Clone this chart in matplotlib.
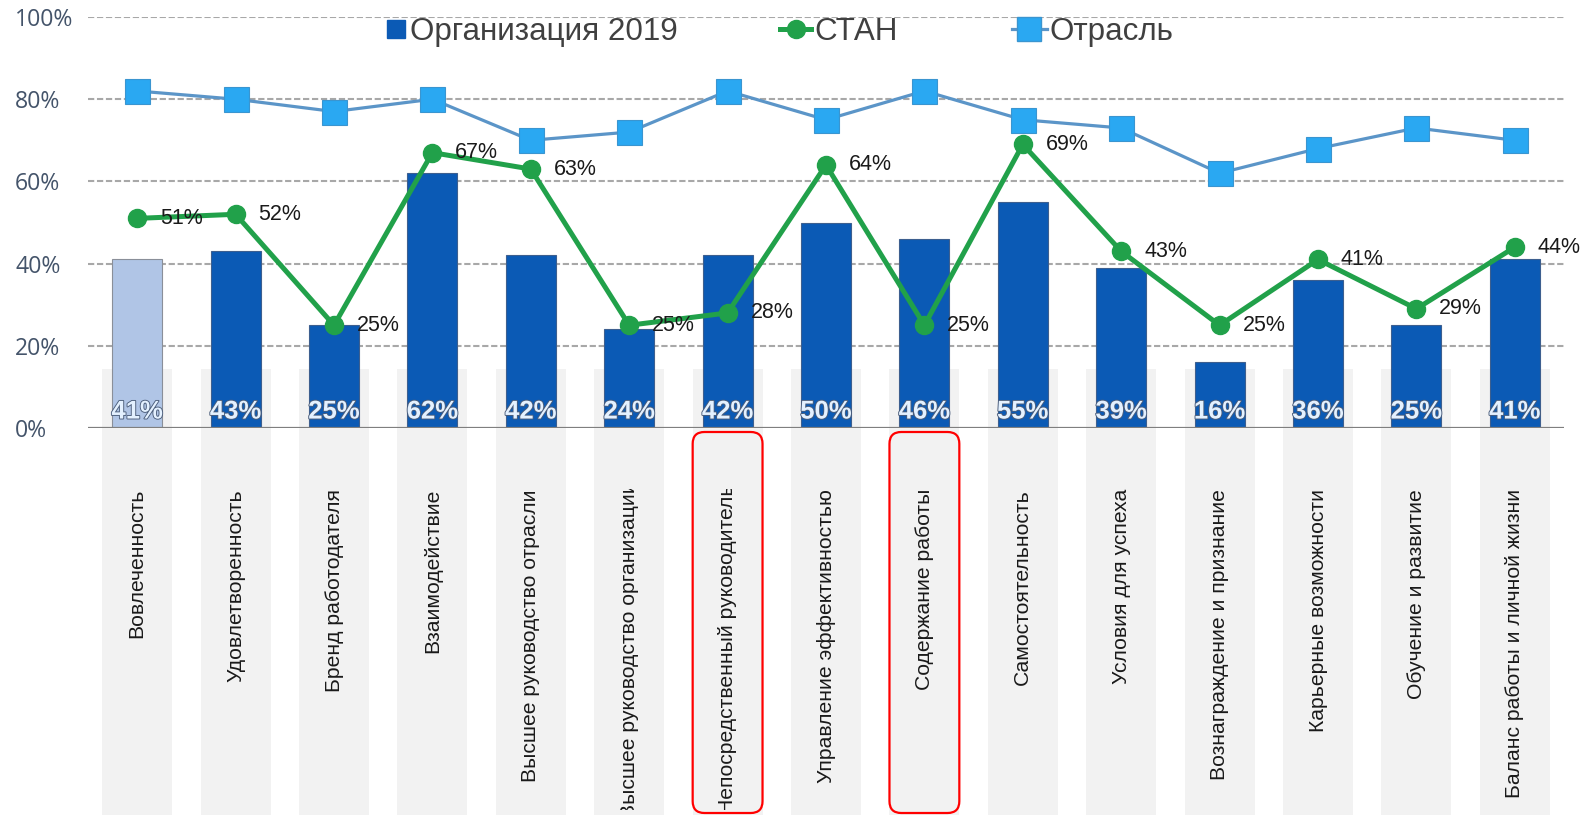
import matplotlib
matplotlib.use('Agg')
import matplotlib.pyplot as plt
from matplotlib.lines import Line2D
from matplotlib.patches import FancyBboxPatch, Rectangle
import matplotlib.patheffects as pe
import numpy as np

categories = ['Вовлеченность', 'Удовлетворенность', 'Бренд работодателя', 'Взаимодействие',
              'Высшее руководство отрасли', 'Высшее руководство организации',
              'Непосредственный руководитель', 'Управление эффективностью', 'Содержание работы',
              'Самостоятельность', 'Условия для успеха', 'Вознаграждение и признание',
              'Карьерные возможности', 'Обучение и развитие', 'Баланс работы и личной жизни']
org_2019 = [41, 43, 25, 62, 42, 24, 42, 50, 46, 55, 39, 16, 36, 25, 41]
stan = [51, 52, 25, 67, 63, 25, 28, 64, 25, 69, 43, 25, 41, 29, 44]
industry = [82, 80, 77, 80, 70, 72, 82, 75, 82, 75, 73, 62, 68, 73, 70]
highlighted = [6, 8]
y_ticks = [0, 20, 40, 60, 80, 100]
series_names = ['Организация 2019', 'СТАН', 'Отрасль']

BAR = '#0b5ab5'
BAR_LIGHT = '#b0c5e6'
GREEN = '#21a14a'
IND_LINE = '#5b95c8'
IND_MARK = '#2aa8f2'

W, H = 1587, 815
fig = plt.figure(figsize=(W / 100, H / 100), dpi=100)
ax_left, ax_right, ax_top, ax_bot = 88, 1564, 17, 428
ax = fig.add_axes([ax_left / W, (H - ax_bot) / H, (ax_right - ax_left) / W, (ax_bot - ax_top) / H])
n = len(categories)
x = np.arange(n)
ax.set_xlim(-0.5, n - 0.5)
ax.set_ylim(0, 100)
ax.set_autoscale_on(False)
py = (ax_bot - ax_top) / 100.0          # pixels per y unit
px = (ax_right - ax_left) / n           # pixels per x unit

def v(ypix):
    return (ax_bot - ypix) / py

# grey background bands behind labels
band_top, band_bot = v(369), v(815)
ax.bar(x, band_top - band_bot, bottom=band_bot, width=0.71, color='#f2f2f2',
       zorder=0, clip_on=False, linewidth=0)

# grid
for t in y_ticks[1:]:
    ax.axhline(t, color='#a8a8a8', lw=1.5, ls=(0, (3, 1.3)), zorder=0.5)
ax.axhline(0, color='#7f7f7f', lw=1.6, zorder=3)

# bars
colors = [BAR_LIGHT] + [BAR] * (n - 1)
edges = ['#8a8f99'] + ['#3d5f8f'] * (n - 1)
ax.bar(x, org_2019, width=0.51, color=colors, edgecolor=edges, linewidth=0.8, zorder=2)
for xi, val in zip(x, org_2019):
    ax.text(xi, 4.0, f'{val}%', ha='center', va='center', fontsize=18.5, fontweight='bold',
            family='Liberation Sans', color='#e4f1ff', zorder=4,
            path_effects=[pe.withStroke(linewidth=1.3, foreground='#4b5d7a')])

# industry line
ax.plot(x, industry, color=IND_LINE, lw=2.3, marker='s', markersize=18,
        markerfacecolor=IND_MARK, markeredgecolor='#3a95d0', markeredgewidth=0.8, zorder=5)
# STAN line
ax.plot(x, stan, color=GREEN, lw=3.6, marker='o', markersize=13,
        markerfacecolor=GREEN, markeredgecolor=GREEN, zorder=6)
for xi, val in zip(x, stan):
    ax.annotate(f'{val}%', (xi, val), xytext=(16.5, 0), textcoords='offset points',
                ha='left', va='center', fontsize=15.5, family='Liberation Sans',
                color='#1a1a1a', zorder=7, annotation_clip=False)

# axes styling
for s in ax.spines.values():
    s.set_visible(False)
ax.set_xticks([])
ax.set_yticks(y_ticks)
ax.set_yticklabels([f'{t}%' for t in y_ticks])
ax.tick_params(axis='y', length=0, pad=73 * 0.72, labelsize=16.6, labelcolor='#44546a')
for lab in ax.get_yticklabels():
    lab.set_horizontalalignment('left')
    lab.set_family('Open Sans')

# category labels (rotated, clipped to the band area)
lab_top, lab_bot = v(489), v(810)
texts = []
for xi, name in zip(x, categories):
    t = ax.text(xi, lab_top, name, rotation=90, ha='center', va='top', fontsize=15.2,
                family='Liberation Sans', color='#1a1a1a', zorder=4)
    clip = Rectangle((xi - 0.4, lab_bot), 0.8, lab_top - lab_bot, transform=ax.transData)
    t.set_clip_path(clip)
    t.set_clip_on(True)
    texts.append(t)

fig.canvas.draw()
r = fig.canvas.get_renderer()
avail = 810 - 489
for t in texts:
    bb = t.get_window_extent(r)
    if bb.height > avail:
        t.set_va('center')
        t.set_y((lab_top + lab_bot) / 2)

# red highlight boxes
for i in highlighted:
    box = FancyBboxPatch((i - 0.355, v(813)), 0.71, v(432) - v(813),
                         boxstyle='round,pad=0,rounding_size=0.12', mutation_aspect=px / py,
                         linewidth=1.6, edgecolor='#ff0000', facecolor='none',
                         transform=ax.transData, clip_on=False, zorder=8)
    ax.add_patch(box)

# legends (three separate entries placed like the reference)
ly = 1 - 32 / H
leg_specs = [
    (Line2D([], [], ls='none', marker='s', markersize=13, color=BAR), series_names[0], 387, 0.6, 0.12),
    (Line2D([], [], color=GREEN, lw=3.6, marker='o', markersize=13), series_names[1], 780, 1.0, 0.1),
    (Line2D([], [], color=IND_LINE, lw=2.3, marker='s', markersize=17, markerfacecolor=IND_MARK,
            markeredgecolor='#3a95d0'), series_names[2], 1012, 1.1, 0.08),
]
for h, label, xl, hl, tp in leg_specs:
    leg = fig.legend([h], [label], loc='center left', bbox_to_anchor=(xl / W, ly),
                     frameon=False, borderpad=0, borderaxespad=0, handlelength=hl,
                     handletextpad=tp, prop={'family': 'Liberation Sans', 'size': 22.6})
    for txt in leg.get_texts():
        txt.set_color('#404040')

fig.savefig('out.png', dpi=100)
